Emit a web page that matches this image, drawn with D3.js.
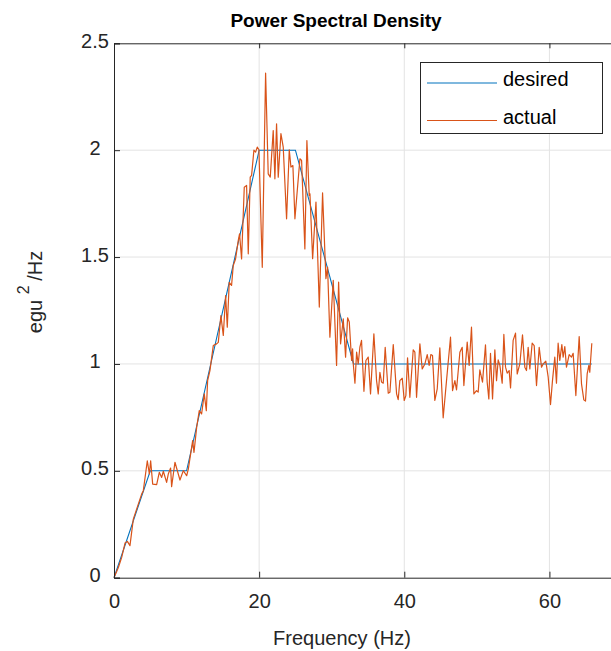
<!DOCTYPE html>
<html>
<head>
<meta charset="utf-8">
<script src="https://cdn.jsdelivr.net/npm/d3@7"></script>
<style>
  html, body { margin: 0; padding: 0; background: #fff; }
  svg { display: block; font-family: "Liberation Sans", Arial, Helvetica, sans-serif; }
</style>
</head>
<body>
<svg id="chart" width="611" height="651"></svg>
<script>
// ---------- data ----------
const title = "Power Spectral Density";
const xLabel = "Frequency (Hz)";
const xTicks = [0, 20, 40, 60];
const yTicks = [0, 0.5, 1, 1.5, 2, 2.5];
const yTickLabels = ["0", "0.5", "1", "1.5", "2", "2.5"];
const seriesNames = ["desired", "actual"];

const desiredFreq = [0, 5, 10, 20, 25, 33, 65.84];
const desiredPsd  = [0, 0.5, 0.5, 2, 2, 1, 1];

const actualFreq = [
  0, 0.60, 1.06, 1.52, 1.84, 2.20, 2.66, 3.12, 3.81, 4.04, 4.59, 4.87, 5.05, 5.33, 5.88,
  6.24, 6.57, 6.80, 7.25, 7.48, 7.80, 7.94, 8.40, 9.09, 9.55, 10.01, 10.24, 10.84, 11.02,
  11.39, 11.75, 12.07, 12.44, 12.72, 12.90, 13.22, 13.68, 14.14, 14.37, 14.73, 15.06, 15.38,
  15.61, 15.88, 16.20, 16.43, 16.75, 17.12, 17.30, 17.58, 17.95, 18.27, 18.50, 18.77, 18.96,
  19.28, 19.51, 19.74, 19.97, 20.43, 20.89, 21.25, 21.53, 21.94, 22.17, 22.40, 22.63, 23.00,
  23.32, 23.78, 24.15, 24.38, 24.65, 24.93, 25.62, 25.85, 26.30, 26.58, 26.90, 27.00, 27.37,
  27.83, 28.29, 28.74, 29.20, 29.43, 29.75, 30.21, 30.67, 30.95, 31.22, 31.59, 31.91, 32.19,
  32.42, 32.74, 32.88, 32.97, 33.20, 33.43, 33.65, 33.88, 34.11, 34.44, 34.71, 35.03, 35.35,
  35.81, 36.18, 36.41, 36.64, 36.87, 37.10, 37.37, 37.79, 38.02, 38.48, 38.94, 39.16, 39.39,
  39.72, 39.99, 40.22, 40.45, 40.77, 41.23, 41.46, 41.69, 42.15, 42.47, 42.84, 43.16, 43.43,
  43.66, 43.89, 44.21, 44.54, 44.90, 45.36, 45.82, 46.37, 46.65, 46.97, 47.20, 47.66, 47.98,
  48.21, 48.67, 48.94, 49.26, 49.59, 49.95, 50.18, 50.41, 50.78, 51.19, 51.42, 51.65, 51.88,
  52.16, 52.48, 52.71, 52.94, 53.17, 53.49, 53.72, 53.95, 54.18, 54.45, 54.64, 55.00, 55.33,
  55.56, 55.92, 56.29, 56.61, 56.84, 57.07, 57.30, 57.62, 57.90, 58.22, 58.59, 58.91, 59.14,
  59.50, 59.83, 60.15, 60.42, 60.74, 60.97, 61.20, 61.43, 61.71, 61.89, 62.12, 62.35, 62.72,
  63.04, 63.27, 63.64, 64.10, 64.42, 64.74, 64.97, 65.20, 65.43, 65.56, 65.84
];
const actualPsd = [
  0, 0.048, 0.095, 0.162, 0.170, 0.150, 0.274, 0.321, 0.391, 0.407, 0.547, 0.485, 0.547, 0.438, 0.435,
  0.493, 0.469, 0.498, 0.446, 0.485, 0.513, 0.426, 0.540, 0.457, 0.501, 0.477, 0.508, 0.641, 0.586,
  0.703, 0.782, 0.766, 0.860, 0.781, 0.922, 0.969, 1.086, 1.094, 1.101, 1.226, 1.133, 1.320,
  1.172, 1.382, 1.367, 1.460, 1.491, 1.577, 1.609, 1.491, 1.827, 1.835, 1.515, 1.874, 1.882,
  2.000, 1.991, 2.014, 2.002, 1.452, 2.361, 1.889, 1.874, 2.092, 1.866, 2.123, 1.874, 2.077,
  2.014, 1.679, 2.002, 1.921, 1.928, 1.679, 1.960, 1.952, 1.538, 2.045, 1.788, 1.796, 1.492,
  1.757, 1.266, 1.800, 1.399, 1.453, 1.125, 1.391, 0.993, 1.383, 1.094, 1.211, 1.032, 1.216,
  1.196, 1.016, 1.071, 1.000, 0.910, 1.055, 1.000, 1.078, 1.110, 0.872, 1.016, 1.032, 0.860,
  1.141, 0.922, 0.860, 0.961, 0.915, 0.910, 1.078, 0.863, 0.868, 1.091, 0.860, 0.833, 0.922,
  0.933, 0.829, 0.852, 1.029, 0.844, 1.066, 1.055, 0.844, 1.094, 0.977, 1.000, 1.044, 0.993,
  1.044, 1.039, 0.829, 0.883, 1.075, 0.748, 0.922, 1.125, 0.875, 0.922, 0.879, 1.055, 1.078,
  0.899, 1.102, 0.993, 1.172, 0.860, 0.875, 0.868, 0.972, 0.915, 1.089, 0.915, 0.836, 1.050,
  0.836, 1.066, 0.922, 1.019, 0.993, 0.910, 1.138, 0.985, 0.957, 0.969, 0.888, 1.110, 1.144,
  0.953, 1.000, 1.136, 0.985, 0.969, 1.078, 0.977, 1.097, 1.086, 0.899, 1.078, 0.985, 1.000,
  1.013, 0.938, 0.810, 0.922, 1.032, 0.910, 1.097, 1.016, 1.091, 1.032, 1.081, 0.985, 1.044,
  1.032, 1.050, 0.852, 1.128, 0.907, 0.832, 0.826, 0.953, 0.993, 0.961, 1.097
];

// ---------- layout ----------
const svg = d3.select("#chart");
const axColor = "#262626";
const plotLeft = 114, plotRight = 622, plotTop = 43.3, plotBottom = 577.7;
const x = d3.scaleLinear().domain([0, 70]).range([plotLeft, plotRight]);
const y = d3.scaleLinear().domain([0, 2.5]).range([plotBottom, plotTop]);
const colors = ["#0072BD", "#D95319"];

// grid
const grid = svg.append("g").attr("stroke", "#e3e3e3").attr("stroke-width", 1);
xTicks.filter(t => t > 0).forEach(t => {
  grid.append("line").attr("x1", x(t)).attr("x2", x(t)).attr("y1", plotTop).attr("y2", plotBottom);
});
yTicks.filter(t => t > 0 && t < 2.5).forEach(t => {
  grid.append("line").attr("x1", plotLeft).attr("x2", plotRight).attr("y1", y(t)).attr("y2", y(t));
});

// lines
const line = d3.line().x(d => x(d[0])).y(d => y(d[1]));
const desired = desiredFreq.map((f, i) => [f, desiredPsd[i]]);
const actual = actualFreq.map((f, i) => [f, actualPsd[i]]);
svg.append("path").datum(desired).attr("d", line)
  .attr("fill", "none").attr("stroke", colors[0]).attr("stroke-width", 1.1);
svg.append("path").datum(actual).attr("d", line)
  .attr("fill", "none").attr("stroke", colors[1]).attr("stroke-width", 1.2)
  .attr("stroke-linejoin", "round");

// axes (ticks inward)
const xAxisB = d3.axisBottom(x).tickValues(xTicks).tickSize(-6).tickPadding(16).tickFormat(d3.format("d"));
const xAxisT = d3.axisTop(x).tickValues(xTicks).tickSize(-5).tickFormat("");
const yAxisL = d3.axisLeft(y).tickValues(yTicks).tickSize(-6).tickPadding(13)
  .tickFormat((d, i) => yTickLabels[i]);

function style(g) {
  g.select(".domain").attr("stroke", axColor).attr("stroke-width", 1);
  g.selectAll(".tick line").attr("stroke", axColor);
  g.selectAll(".tick text").attr("fill", axColor).style("font-size", "20px")
    .style("font-family", '"Liberation Sans", Arial, sans-serif');
}
svg.append("g").attr("transform", `translate(0,${plotBottom})`).call(xAxisB).call(style);
svg.append("g").attr("transform", `translate(0,${plotTop})`).call(xAxisT).call(style);
const yg = svg.append("g").attr("transform", `translate(${plotLeft},0)`).call(yAxisL).call(style);
yg.selectAll(".tick text").attr("text-anchor", "middle").attr("x", -19).attr("dy", "0.2em");

// title
svg.append("text").attr("x", 336).attr("y", 27).attr("text-anchor", "middle")
  .attr("font-size", 19).attr("font-weight", "bold").attr("fill", "#000").text(title);

// x label
svg.append("text").attr("x", 342).attr("y", 645).attr("text-anchor", "middle")
  .attr("font-size", 20).attr("fill", axColor).text(xLabel);

// y label with superscript
const yl = svg.append("text").attr("transform", "translate(42,292) rotate(-90)")
  .attr("text-anchor", "middle").attr("font-size", 20).attr("fill", axColor);
yl.append("tspan").text("egu  ");
yl.append("tspan").attr("dy", -13).attr("font-size", 16).text("2 ");
yl.append("tspan").attr("dy", 13).text("/Hz");

// legend
const lg = svg.append("g");
lg.append("rect").attr("x", 420.5).attr("y", 62.5).attr("width", 182).attr("height", 71)
  .attr("fill", "#fff").attr("stroke", axColor).attr("stroke-width", 1);
seriesNames.forEach((name, i) => {
  const ly = 83 + i * 37.5;
  lg.append("line").attr("x1", 427).attr("x2", 497).attr("y1", ly).attr("y2", ly)
    .attr("stroke", colors[i]).attr("stroke-width", 1.2);
  lg.append("text").attr("x", 503).attr("y", ly + 3).attr("font-size", 20)
    .attr("fill", "#000").text(name);
});
</script>
</body>
</html>
